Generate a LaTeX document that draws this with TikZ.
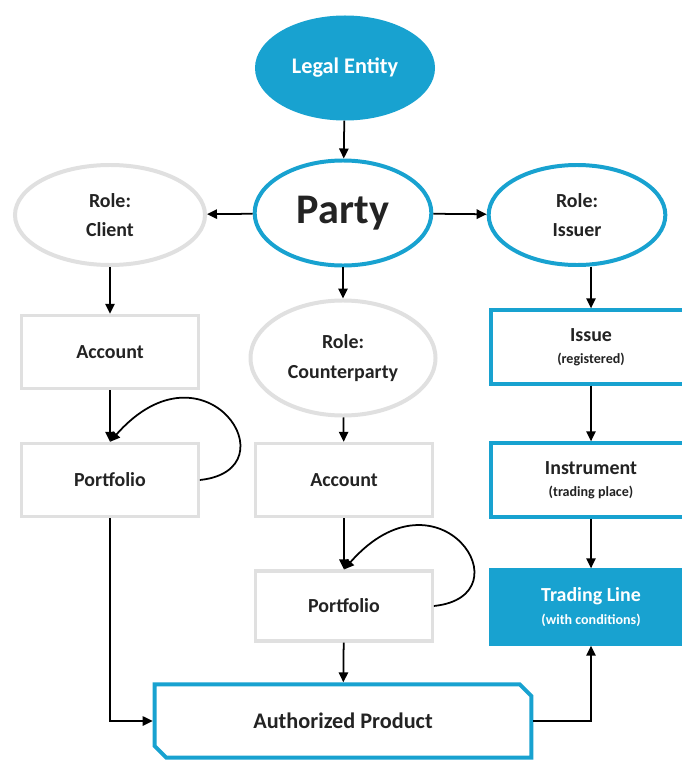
\documentclass[tikz,border=0pt]{standalone}
\usepackage{fontspec}
\setmainfont{Carlito}
\usetikzlibrary{shapes.geometric,shapes.misc,arrows.meta}
\definecolor{fiblue}{RGB}{24,162,208}
\definecolor{rolegray}{RGB}{224,224,224}
\definecolor{txtdark}{RGB}{35,35,35}
\newcommand{\subtxt}{\bfseries\fontsize{12}{14}\selectfont}
\begin{document}
\begin{tikzpicture}[x=0.03cm, y=-0.03cm,
	oval/.style={ellipse, inner sep=0pt, align=center, text=txtdark, font=\bfseries\fontsize{17}{25}\selectfont},
	blueoval/.style={oval, draw=fiblue, line width=3.4pt},
	grayoval/.style={oval, draw=rolegray, line width=3.4pt},
	graybox/.style={rectangle, draw=rolegray, line width=2.6pt, inner sep=0pt, text=txtdark, font=\bfseries\fontsize{17}{20}\selectfont},
	bluebox/.style={rectangle, draw=fiblue, line width=3.4pt, inner sep=0pt, align=center, text=txtdark, font=\bfseries\fontsize{17}{20}\selectfont, minimum width=6cm, minimum height=2.2cm},
	arr/.style={-{Triangle[length=3mm,width=2.8mm]}, line width=1.5pt, black}]
	\useasboundingbox (0,0) rectangle (682,761);
	\fill[white] (0,0) rectangle (682,761);
	% top row
	\node[ellipse, fill=fiblue, text=white, font=\bfseries\fontsize{19}{22}\selectfont, minimum width=5.4cm, minimum height=3.15cm] (legal) at (345,68) {Legal Entity};
	\node[blueoval, minimum width=5.3cm, minimum height=3.15cm, font=\bfseries\fontsize{36}{40}\selectfont] (party) at (343,213) {Party};
	\node[grayoval, minimum width=5.7cm, minimum height=3.0cm] (client) at (110,215) {Role:\\Client};
	\node[blueoval, minimum width=5.3cm, minimum height=3.0cm] (issuer) at (577,215) {Role:\\Issuer};
	% left column
	\node[graybox, minimum width=5.3cm, minimum height=2.2cm] (acc1) at (110,352) {Account};
	\node[graybox, minimum width=5.3cm, minimum height=2.2cm] (pf1) at (110,480) {Portfolio};
	% middle column
	\node[grayoval, minimum width=5.55cm, minimum height=3.45cm] (counter) at (343,358) {Role:\\Counterparty};
	\node[graybox, minimum width=5.3cm, minimum height=2.2cm] (acc2) at (344,480) {Account};
	\node[graybox, minimum width=5.3cm, minimum height=2.1cm] (pf2) at (344,606) {Portfolio};
	% right column
	\node[bluebox] (issue) at (591,347) {Issue\\[-1pt]{\subtxt (registered)}};
	\node[bluebox] (instr) at (591,480) {Instrument\\[-1pt]{\subtxt (trading place)}};
	\node[bluebox, fill=fiblue, text=white] (trade) at (591,607) {Trading Line\\[-1pt]{\subtxt (with conditions)}};
	% bottom
	\node[chamfered rectangle, chamfered rectangle corners={north east,south west}, chamfered rectangle xsep=0.42cm, draw=fiblue, line width=3.4pt, inner sep=0pt, text=txtdark, font=\bfseries\fontsize{19}{22}\selectfont, minimum width=11.3cm, minimum height=2.2cm] (prod) at (343,721) {Authorized Product};
	% connectors
	\draw[arr] (legal) -- (party);
	\draw[arr] (party) -- (client);
	\draw[arr] (party) -- (issuer);
	\draw[arr] (party) -- (counter);
	\draw[arr] (client.south -| acc1.north) -- (acc1.north);
	\draw[arr] (acc1) -- (pf1);
	\draw[arr] (pf1.east) .. controls +(95,-10) and +(95,-108) .. (pf1.north); %loop
	\draw[arr] (counter) -- (acc2);
	\draw[arr] (acc2) -- (pf2);
	\draw[arr] (pf2.east) .. controls +(95,-10) and +(95,-108) .. (pf2.north); %loop
	\draw[arr] (pf2) -- (prod);
	\draw[arr] (issuer.south -| issue.north) -- (issue.north);
	\draw[arr] (issue) -- (instr);
	\draw[arr] (instr) -- (trade);
	\draw[arr] (pf1.south) |- (prod.west);
	\draw[arr] (prod.east) -| (trade.south);
\end{tikzpicture}
\end{document}
